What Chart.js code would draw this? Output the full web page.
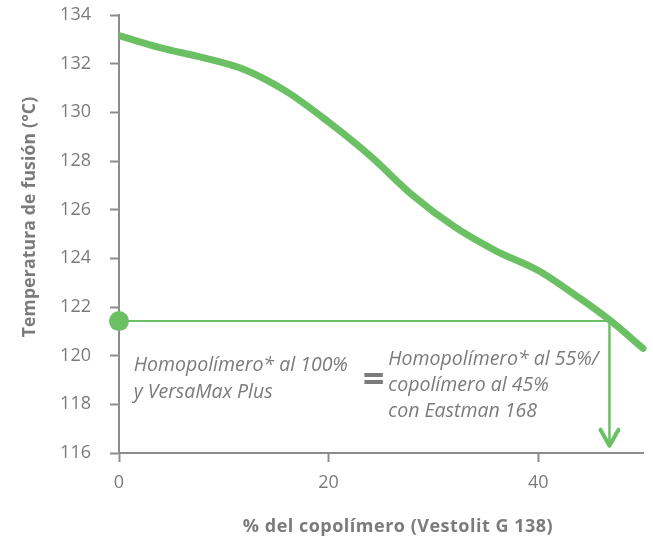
<!DOCTYPE html>
<html>
<head>
    <title>Temperatura de fusión</title>
    <script src="https://cdn.jsdelivr.net/npm/chart.js"></script>
    <style>
        html, body { margin: 0; padding: 0; background: #fff; }
        #wrap { width: 653px; height: 537px; }
    </style>
</head>
<body>
    <div id="wrap"><canvas id="meltChart" width="653" height="537"></canvas></div>

    <script>
        // % copolímero vs. temperatura de fusión (°C)
        const copolymerPct = [0, 4, 8, 12, 16, 20, 24, 28, 32, 36, 40, 44, 47, 50];
        const meltTemp = [133.15, 132.65, 132.25, 131.75, 130.85, 129.6, 128.2, 126.6, 125.3, 124.3, 123.5, 122.35, 121.4, 120.3];

        // lectura: 100% homopolímero -> mezcla 55/45
        const refTemp = 121.42;
        const refPct = 46.8;
        const arrowEnd = 116.3;

        const yTicks = [116, 118, 120, 122, 124, 126, 128, 130, 132, 134];
        const xTicks = [0, 20, 40];

        const leftNote = ['Homopolímero* al 100%', 'y VersaMax Plus'];
        const rightNote = ['Homopolímero* al 55%/', 'copolímero al 45%', 'con Eastman 168'];
        const yTitle = 'Temperatura de fusión (°C)';
        const xTitle = '% del copolímero (Vestolit G 138)';

        const green = '#6cc064';
        const grey = '#7b7b7b';
        const axisGrey = '#8c8c8c';
        const font = "'Open Sans', 'Noto Sans', sans-serif";

        const notesPlugin = {
            id: 'notes',
            afterDatasetsDraw(chart) {
                const ctx = chart.ctx;
                const xs = chart.scales.x, ys = chart.scales.y;
                ctx.save();

                // arrowhead
                const tx = xs.getPixelForValue(refPct);
                const ty = ys.getPixelForValue(arrowEnd);
                ctx.strokeStyle = green;
                ctx.lineWidth = 4;
                ctx.lineCap = 'round';
                ctx.lineJoin = 'round';
                ctx.beginPath();
                ctx.moveTo(tx - 9, ty - 16);
                ctx.lineTo(tx, ty);
                ctx.lineTo(tx + 9, ty - 16);
                ctx.stroke();

                // notes
                ctx.fillStyle = grey;
                ctx.font = 'italic 19.5px ' + font;
                ctx.textAlign = 'left';
                ctx.textBaseline = 'alphabetic';
                let lx = xs.getPixelForValue(1.4), ly = ys.getPixelForValue(119.39);
                leftNote.forEach((t, i) => ctx.fillText(t, lx, ly + i * 27));
                let rx = xs.getPixelForValue(25.7), ry = ys.getPixelForValue(119.6);
                rightNote.forEach((t, i) => ctx.fillText(t, rx, ry + i * 26));

                ctx.font = 'bold 38px ' + font;
                ctx.textAlign = 'center';
                ctx.textBaseline = 'middle';
                ctx.fillText('=', xs.getPixelForValue(24.3), ys.getPixelForValue(118.94));

                // axis titles
                ctx.textBaseline = 'alphabetic';
                ctx.font = 'bold 18px ' + font;
                ctx.letterSpacing = '0.5px';
                ctx.fillText(xTitle, 398, 532);
                ctx.font = 'bold 17.5px ' + font;
                ctx.letterSpacing = '0.2px';
                ctx.translate(35, 217);
                ctx.rotate(-Math.PI / 2);
                ctx.fillText(yTitle, 0, 0);
                ctx.restore();
            }
        };

        new Chart(document.getElementById('meltChart'), {
            type: 'scatter',
            data: {
                datasets: [
                    {
                        data: copolymerPct.map((x, i) => ({ x: x, y: meltTemp[i] })),
                        showLine: true,
                        borderColor: green,
                        borderWidth: 7,
                        borderCapStyle: 'round',
                        pointRadius: 0,
                        cubicInterpolationMode: 'monotone',
                        clip: { left: 0, right: 10, top: 10, bottom: 10 },
                        order: 2
                    },
                    {
                        data: [{ x: 0, y: refTemp }, { x: refPct, y: refTemp }],
                        showLine: true,
                        borderColor: green,
                        borderWidth: 2,
                        pointRadius: [10, 0],
                        pointBackgroundColor: green,
                        pointBorderWidth: 0,
                        clip: false,
                        order: 1
                    },
                    {
                        data: [{ x: refPct, y: refTemp }, { x: refPct, y: arrowEnd }],
                        showLine: true,
                        borderColor: green,
                        borderWidth: 2.5,
                        pointRadius: 0,
                        clip: false,
                        order: 1
                    }
                ]
            },
            options: {
                responsive: false,
                animation: false,
                events: [],
                layout: { padding: { top: 15, right: 8, left: 0, bottom: 0 } },
                plugins: {
                    legend: { display: false },
                    tooltip: { enabled: false }
                },
                scales: {
                    x: {
                        type: 'linear',
                        min: 0,
                        max: 50,
                        afterFit(s) { s.height = 84; s.paddingLeft = 0; s.paddingRight = 0; },
                        afterBuildTicks(s) { s.ticks = xTicks.map(v => ({ value: v })); },
                        border: { color: axisGrey, width: 2 },
                        grid: { drawOnChartArea: false, tickLength: 9, tickColor: axisGrey, tickWidth: 2 },
                        ticks: { color: grey, padding: 10, font: { family: font, size: 18 } }
                    },
                    y: {
                        min: 116,
                        max: 134,
                        afterFit(s) { s.width = 119; s.paddingTop = 0; s.paddingBottom = 0; },
                        afterBuildTicks(s) { s.ticks = yTicks.map(v => ({ value: v })); },
                        border: { color: axisGrey, width: 2 },
                        grid: { drawOnChartArea: false, tickLength: 9, tickColor: axisGrey, tickWidth: 2 },
                        ticks: { color: grey, padding: 19, font: { family: font, size: 18 } }
                    }
                }
            },
            plugins: [notesPlugin]
        });
    </script>
</body>
</html>
